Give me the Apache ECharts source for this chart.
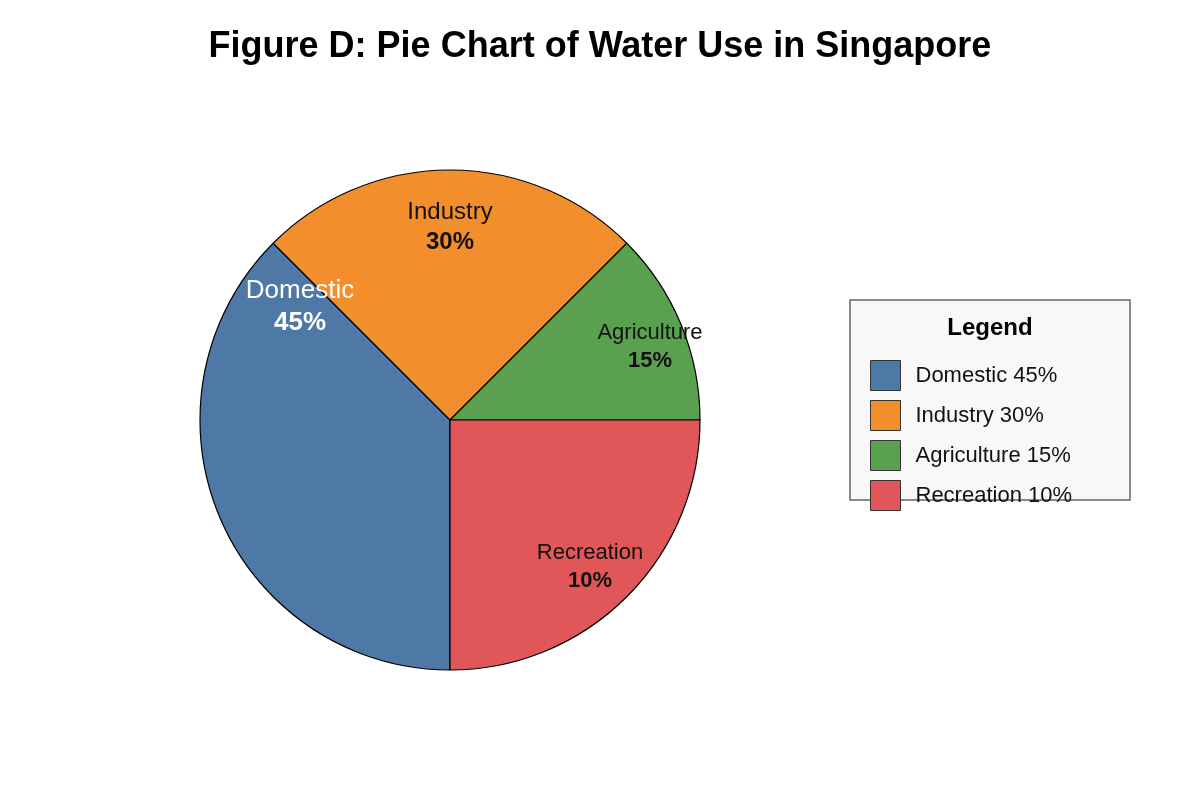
<!DOCTYPE html>
<html>
<head>
<meta charset="utf-8">
<title>Water Use in Singapore</title>
<script src="https://cdn.jsdelivr.net/npm/echarts@6/dist/echarts.min.js"></script>
<style>
  html, body { margin: 0; padding: 0; background: #fff; }
  #chart { width: 1200px; height: 800px; }
</style>
</head>
<body>
<div id="chart"></div>
<script>
// categories and the shares printed on the chart
var categories = ['Domestic', 'Industry', 'Agriculture', 'Recreation'];
var percentLabels = ['45%', '30%', '15%', '10%'];
// slice sizes as they are drawn in the figure (degrees of the circle)
var sliceSizes = [135, 90, 45, 90];
var colors = ['#4e79a7', '#f28e2b', '#59a14f', '#e15759'];

// where each slice label sits, relative to the pie centre (px)
var labelOffsets = [[-150, -113], [0, -193], [200, -73], [140, 147]];
var labelFontSizes = [26, 24, 22, 22];
var labelColors = ['#ffffff', '#111111', '#111111', '#111111'];

var pieCenter = [450, 420];
var pieRadius = 250;

var chart = echarts.init(document.getElementById('chart'), null, { renderer: 'canvas' });

var seriesData = categories.map(function (name, i) {
  var fs = labelFontSizes[i];
  return {
    name: name + ' ' + percentLabels[i],
    value: sliceSizes[i],
    itemStyle: { color: colors[i] },
    label: {
      formatter: '{n|' + name + '}\n{p|' + percentLabels[i] + '}',
      rich: {
        n: { fontSize: fs, color: labelColors[i], fontFamily: 'Liberation Sans', lineHeight: fs + 6 },
        p: { fontSize: fs, color: labelColors[i], fontWeight: 'bold', fontFamily: 'Liberation Sans', lineHeight: fs + 6 }
      }
    }
  };
});

var option = {
  backgroundColor: '#ffffff',
  animation: false,
  textStyle: { fontFamily: 'Liberation Sans' },
  title: [{
    text: 'Figure D: Pie Chart of Water Use in Singapore',
    left: 'center',
    top: 24,
    textStyle: { fontSize: 36, fontWeight: 'bold', color: '#000', fontFamily: 'Liberation Sans' }
  }, {
    text: 'Legend',
    left: 990,
    textAlign: 'center',
    top: 316,
    padding: 0,
    textStyle: { fontSize: 24, fontWeight: 'bold', color: '#000', fontFamily: 'Liberation Sans' }
  }],
  graphic: [{
    type: 'rect',
    z: 0,
    shape: { x: 850, y: 300, width: 280, height: 200 },
    style: { fill: '#f8f8f8', stroke: '#666666', lineWidth: 1.5 }
  }],
  legend: {
    orient: 'vertical',
    left: 870,
    top: 360,
    padding: 0,
    itemWidth: 30,
    itemHeight: 30,
    itemGap: 9,
    icon: 'rect',
    z: 10,
    itemStyle: { borderColor: '#333', borderWidth: 1 },
    textStyle: { fontSize: 22, color: '#111', fontFamily: 'Liberation Sans', padding: [0, 0, 0, 10] },
    data: seriesData.map(function (d) { return d.name; })
  },
  series: [{
    type: 'pie',
    center: pieCenter,
    radius: pieRadius,
    startAngle: 270,
    clockwise: true,
    avoidLabelOverlap: false,
    silent: true,
    itemStyle: { borderColor: '#000', borderWidth: 1.2 },
    label: { show: true, position: 'inside' },
    labelLine: { show: false },
    labelLayout: function (params) {
      var off = labelOffsets[params.dataIndex];
      return {
        x: pieCenter[0] + off[0],
        y: pieCenter[1] + off[1],
        align: 'center',
        verticalAlign: 'middle'
      };
    },
    data: seriesData
  }]
};

chart.setOption(option);
</script>
</body>
</html>
